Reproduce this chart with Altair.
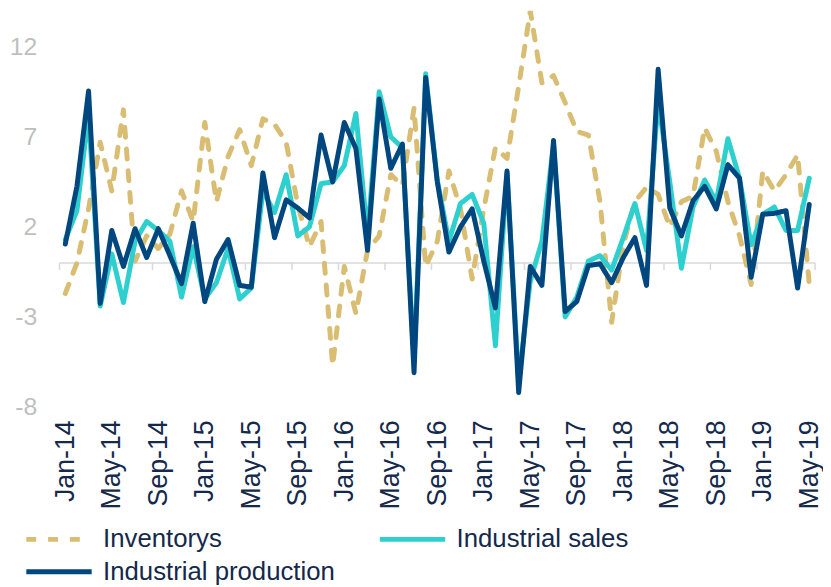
import altair as alt
import pandas as pd

# ---- data (monthly, Jan-14 .. May-19) ----
months = list(pd.date_range("2014-01-01", "2019-05-01", freq="MS").strftime("%b-%y"))

inventorys = [
    -1.7, 0.0, 3.0, 6.7, 4.0, 8.5, 0.1, 1.5, 0.8, 1.6,
    4.0, 2.3, 7.8, 3.4, 5.9, 7.4, 5.4, 8.0, 7.7, 6.7,
    3.2, 0.9, 2.3, -5.7, -0.2, -2.8, 0.7, 1.5, 4.9, 4.3,
    8.6, -0.2, 1.2, 5.1, 3.0, -0.9, 3.0, 6.4, 5.8, 9.8,
    14.0, 10.0, 10.4, 8.9, 7.3, 7.1, 3.4, -3.3, 1.0, 3.4,
    4.2, 3.8, 2.0, 3.4, 3.7, 7.5, 6.2, 3.4, 1.5, -1.2,
    5.1, 4.0, 4.9, 6.0, -1.2,
]
industrial_sales = [
    1.3, 2.9, 8.3, -2.4, 0.5, -2.2, 1.2, 2.3, 1.8, 1.2,
    -1.9, 0.9, -2.0, -1.1, 0.8, -2.0, -1.4, 4.0, 2.8, 4.9,
    1.5, 2.0, 4.4, 4.5, 5.4, 8.3, 1.5, 9.5, 7.0, 6.4,
    -5.5, 10.5, 4.6, 1.2, 3.3, 3.8, 2.2, -4.6, 5.0, -6.6,
    -1.0, 1.2, 6.6, -3.0, -1.9, 0.1, 0.4, -0.4, 1.4, 3.3,
    0.7, 9.0, 4.5, -0.3, 3.1, 4.6, 3.4, 6.9, 4.7, 1.0,
    2.7, 3.1, 1.8, 1.8, 4.7,
]
industrial_production = [
    1.05, 4.25, 9.55, -2.25, 1.8, -0.2, 1.9, 0.3, 1.9, 0.4,
    -1.15, 2.2, -2.15, 0.2, 1.3, -1.25, -1.35, 5.0, 1.4, 3.5,
    3.05, 2.5, 7.1, 4.5, 7.8, 6.35, 0.7, 9.1, 5.25, 6.6,
    -6.1, 10.3, 4.5, 0.6, 2.0, 3.0, 0.1, -2.5, 5.1, -7.2,
    -0.2, -1.25, 6.8, -2.7, -2.15, -0.15, -0.05, -1.1, 0.3, 1.4,
    -1.25, 10.75, 3.05, 1.5, 3.45, 4.25, 3.0, 5.45, 4.7, -0.8,
    2.7, 2.75, 2.9, -1.4, 3.25,
]

series_names = ["Inventorys", "Industrial sales", "Industrial production"]
series_colors = ["#D9BD73", "#2ECFCF", "#00467F"]
series_dash = [[10, 12], [1, 0], [1, 0]]

y_ticks = [-8, -3, 2, 7, 12]
x_tick_idx = list(range(0, len(months), 4))
boundary_ticks = [i - 0.5 for i in x_tick_idx] + [len(months) - 0.5]

rows = []
for name, vals in zip(series_names, [inventorys, industrial_sales, industrial_production]):
    for i, v in enumerate(vals):
        rows.append({"idx": i, "value": v, "series": name})
df = pd.DataFrame(rows)

label_expr = "[" + ",".join("'%s'" % m for m in months) + "][datum.value]"

TEXT = "#14294B"
FONT = "Liberation Sans"

x_scale = alt.Scale(domain=[-0.5, len(months) - 0.5], nice=False, zero=False)
y_scale = alt.Scale(domain=[-8, 14], nice=False, zero=False)

zero_line = alt.Chart(pd.DataFrame({"v": [0]})).mark_rule(
    color="#D9D9D9", strokeWidth=1.5
).encode(y=alt.Y("v:Q", scale=y_scale))

tick_df = pd.DataFrame({"b": boundary_ticks, "y0": 0, "y1": -0.4})
ticks = alt.Chart(tick_df).mark_rule(color="#D9D9D9", strokeWidth=1.5).encode(
    x=alt.X("b:Q", scale=x_scale),
    y=alt.Y("y0:Q", scale=y_scale),
    y2="y1:Q",
)

legend_cfg = dict(
    title=None,
    orient="none",
    legendX=-14,
    legendY=520,
    direction="horizontal",
    columns=2,
    symbolType="M-3,0H3",
    symbolSize=484,
    symbolStrokeWidth=5,
    symbolFillColor="transparent",
    labelFont=FONT,
    labelFontSize=26,
    labelColor=TEXT,
    labelOffset=31,
    labelLimit=400,
    columnPadding=34,
    rowPadding=6,
)

lines = alt.Chart(df).mark_line(
    strokeWidth=5, strokeCap="round", strokeJoin="round", clip=True
).encode(
    x=alt.X(
        "idx:Q",
        scale=x_scale,
        axis=alt.Axis(
            values=x_tick_idx,
            labelExpr=label_expr,
            labelAngle=-90,
            labelAlign="right",
            labelBaseline="middle",
            labelFont=FONT,
            labelFontSize=27,
            labelColor=TEXT,
            labelPadding=13,
            ticks=False,
            tickSize=0,
            domain=False,
            grid=False,
            title=None,
            labelOverlap=False,
        ),
    ),
    y=alt.Y(
        "value:Q",
        scale=y_scale,
        axis=alt.Axis(
            values=y_ticks,
            labelExpr="datum.value + ''",
            labelFont=FONT,
            labelFontSize=25,
            labelColor="#BFBFBF",
            labelPadding=23,
            ticks=False,
            tickSize=0,
            domain=False,
            grid=False,
            title=None,
            minExtent=52,
            maxExtent=52,
        ),
    ),
    color=alt.Color(
        "series:N",
        scale=alt.Scale(domain=series_names, range=series_colors),
        legend=alt.Legend(**legend_cfg),
    ),
    strokeDash=alt.StrokeDash(
        "series:N",
        scale=alt.Scale(domain=series_names, range=series_dash),
        legend=alt.Legend(**legend_cfg),
    ),
)

chart = alt.layer(zero_line, ticks, lines).properties(
    width=763,
    height=400,
    padding={"left": 0, "top": 0, "right": 0, "bottom": 0},
).configure_view(stroke=None)

chart.save("out.html", embed_options={"renderer": "svg", "actions": False})
